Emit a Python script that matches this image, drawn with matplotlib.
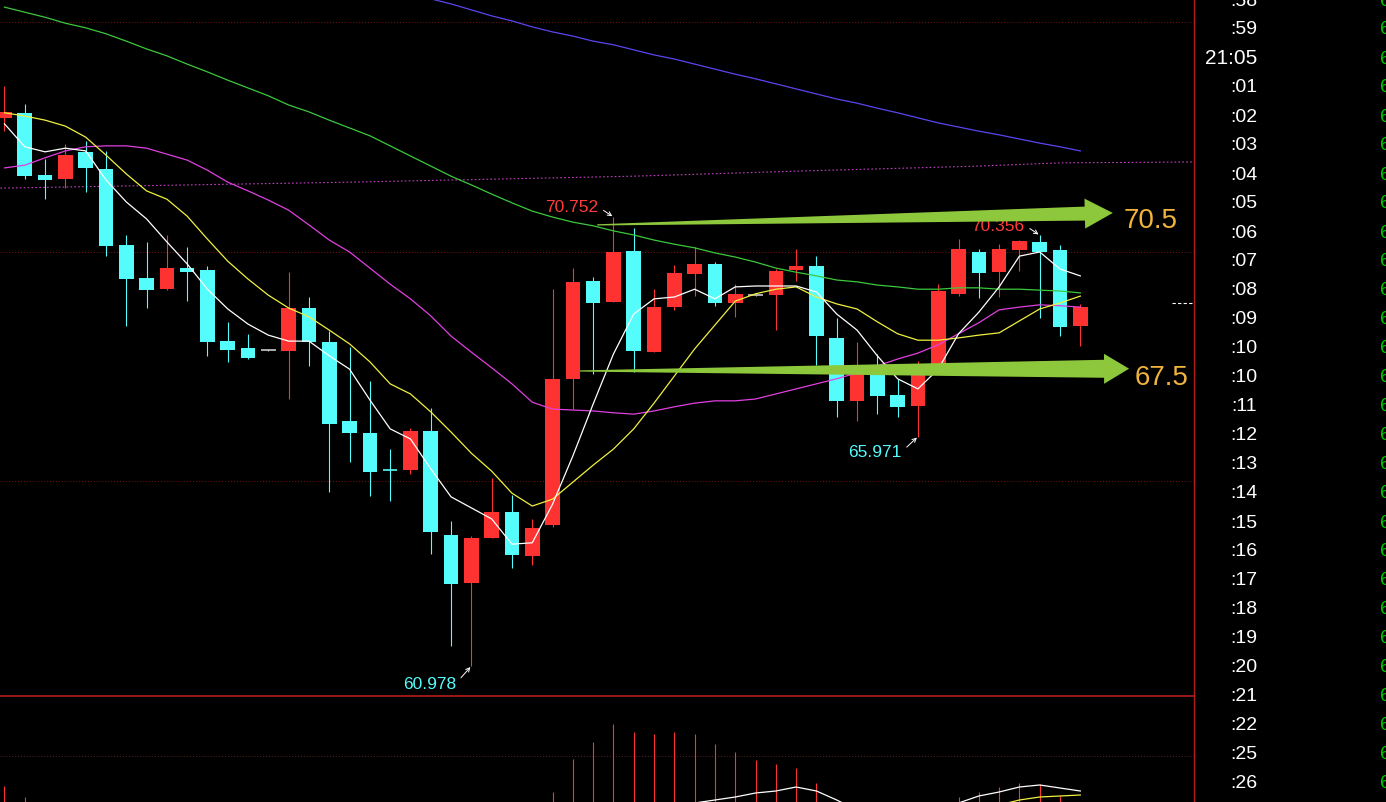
import numpy as np
import matplotlib.pyplot as plt
from matplotlib.patches import Polygon

plt.rcParams['font.family'] = ['Liberation Sans', 'DejaVu Sans']

# ---- candles (one per minute) ----
opens = [72.91, 73.02, 71.67, 71.58, 72.17, 71.80, 70.14, 69.42, 69.18, 69.64,
         69.60, 68.05, 67.90, 67.86, 67.83, 68.77, 68.03, 66.31, 66.05, 65.25,
         65.25, 66.09, 63.83, 62.79, 63.77, 64.33, 63.37, 64.05, 67.22, 69.36,
         68.90, 70.01, 67.81, 68.79, 69.51, 69.73, 68.88, 69.05, 69.05, 69.60,
         69.69, 68.12, 66.75, 67.49, 66.88, 66.64, 67.44, 69.08, 69.99, 69.55,
         70.03, 70.21, 70.03, 68.38]
highs = [73.60, 73.21, 72.01, 72.34, 72.41, 72.19, 70.36, 70.21, 70.36, 70.10,
         69.69, 68.47, 68.20, 67.88, 69.55, 69.01, 68.27, 67.92, 67.18, 65.70,
         66.16, 66.59, 64.13, 63.81, 65.07, 64.70, 64.18, 69.18, 69.64, 69.45,
         70.752, 70.51, 69.18, 69.71, 70.10, 69.77, 69.29, 69.07, 69.62, 70.05,
         69.90, 68.55, 68.03, 67.77, 67.22, 67.62, 69.29, 70.27, 70.05, 70.16,
         70.25, 70.356, 70.14, 68.86]
lows = [72.62, 71.58, 71.14, 71.38, 71.30, 69.90, 68.38, 68.77, 69.16, 68.92,
        67.73, 67.60, 67.66, 67.84, 66.79, 67.51, 64.77, 65.42, 64.68, 64.57,
        65.16, 63.42, 61.41, 60.978, 63.77, 63.11, 63.18, 64.00, 66.57, 67.33,
        68.90, 67.38, 67.81, 68.73, 69.03, 68.81, 68.58, 69.03, 68.29, 69.36,
        67.53, 66.40, 66.31, 66.46, 66.40, 65.971, 67.40, 69.03, 68.99, 69.01,
        69.58, 68.55, 68.16, 67.94]
closes = [73.04, 71.64, 71.56, 72.10, 71.82, 70.12, 69.40, 69.16, 69.64, 69.55,
          68.03, 67.86, 67.68, 67.86, 68.77, 68.03, 66.25, 66.05, 65.20, 65.24,
          66.09, 63.89, 62.76, 63.77, 64.33, 63.39, 63.98, 67.22, 69.34, 68.88,
          69.99, 67.83, 68.79, 69.53, 69.73, 68.88, 69.08, 69.05, 69.58, 69.69,
          68.16, 66.75, 67.36, 66.85, 66.62, 67.31, 69.14, 70.05, 69.53, 70.05,
          70.23, 69.99, 68.36, 68.79]

# ---- moving averages ----
ma5 = [72.78, 72.28, 72.17, 72.25, 72.19, 71.56, 71.08, 70.71, 70.21, 69.73,
       69.18, 68.75, 68.42, 68.18, 68.05, 68.05, 67.73, 67.44, 66.77, 66.14,
       65.92, 65.27, 64.66, 64.42, 64.18, 63.63, 63.66, 64.50, 65.55, 66.68,
       67.77, 68.64, 68.97, 69.01, 69.18, 68.97, 69.23, 69.25, 69.25, 69.25,
       69.12, 68.64, 68.29, 67.73, 67.23, 67.01, 67.44, 68.21, 68.68, 69.23,
       69.90, 69.99, 69.62, 69.47]
ma10 = [73.02, 72.95, 72.86, 72.73, 72.49, 72.10, 71.69, 71.32, 71.14, 70.77,
        70.27, 69.79, 69.40, 69.05, 68.77, 68.58, 68.29, 67.99, 67.60, 67.12,
        66.90, 66.51, 66.07, 65.61, 65.22, 64.74, 64.46, 64.61, 64.98, 65.35,
        65.70, 66.14, 66.70, 67.29, 67.88, 68.40, 68.92, 69.08, 69.18, 69.23,
        69.01, 68.86, 68.75, 68.47, 68.21, 68.07, 68.07, 68.12, 68.18, 68.23,
        68.49, 68.75, 68.88, 69.03]
ma20 = [71.82, 71.88, 72.04, 72.19, 72.28, 72.30, 72.30, 72.25, 72.12, 71.99,
        71.77, 71.51, 71.32, 71.12, 70.90, 70.58, 70.25, 69.99, 69.64, 69.29,
        68.97, 68.60, 68.16, 67.81, 67.47, 67.12, 66.72, 66.57, 66.55, 66.53,
        66.49, 66.46, 66.53, 66.62, 66.70, 66.75, 66.75, 66.79, 66.90, 67.01,
        67.12, 67.23, 67.36, 67.51, 67.66, 67.79, 67.97, 68.21, 68.45, 68.73,
        68.79, 68.84, 68.82, 68.79]
ma60 = [75.32, 75.21, 75.10, 74.97, 74.87, 74.74, 74.58, 74.41, 74.26, 74.08,
        73.91, 73.73, 73.56, 73.39, 73.19, 73.04, 72.86, 72.69, 72.52, 72.30,
        72.08, 71.86, 71.64, 71.45, 71.25, 71.06, 70.88, 70.75, 70.64, 70.56,
        70.45, 70.36, 70.25, 70.16, 70.08, 69.97, 69.88, 69.77, 69.64, 69.55,
        69.47, 69.38, 69.34, 69.27, 69.23, 69.18, 69.18, 69.21, 69.21, 69.18,
        69.18, 69.16, 69.14, 69.10]
ma120_start = 20
ma120 = [75.63, 75.50, 75.39, 75.26, 75.13, 75.02, 74.89, 74.78, 74.69, 74.58,
         74.50, 74.39, 74.28, 74.19, 74.08, 73.97, 73.86, 73.76, 73.65, 73.54,
         73.43, 73.32, 73.23, 73.12, 73.02, 72.91, 72.80, 72.71, 72.62, 72.54,
         72.45, 72.36, 72.28, 72.19]

# average-price dotted line
avg_idx = [-0.2, 17, 31, 39, 48, 52, 58.6]
avg_val = [71.38, 71.51, 71.64, 71.75, 71.86, 71.93, 71.95]

grid_levels = [75, 70, 65]
last_marker = 68.88

# ---- lower panel (MACD) ----
macd_hist = [0.16, 0.05, 0, 0, 0, 0, 0, 0, 0, 0,
             0, 0, 0, 0, 0, 0, 0, 0, 0, 0,
             0, 0, 0, 0, 0, 0, 0, 0.10, 0.43, 0.60,
             0.78, 0.70, 0.68, 0.70, 0.68, 0.58, 0.50, 0.42, 0.38, 0.34,
             0.19, 0, 0, 0, 0, 0, 0, 0.05, 0.10, 0.15,
             0.19, 0.18, 0.06, 0]
dif_a_idx = [34, 35, 36, 37, 38, 39, 40, 41, 42]
dif_a = [-0.01, 0.02, 0.05, 0.09, 0.11, 0.15, 0.11, 0.02, -0.08]
dif_b_idx = [46, 47, 48, 49, 50, 51, 52, 53]
dif_b = [-0.10, -0.01, 0.06, 0.10, 0.15, 0.17, 0.14, 0.11]
dea_idx = [49, 50, 51, 52, 53]
dea = [-0.03, 0.02, 0.05, 0.06, 0.07]

# ---- annotations ----
marks = [("70.752", 30, 70.752, -15, 10, '#ff3c3c'),
         ("60.978", 23, 60.978, -15, -17, '#54fcfc'),
         ("65.971", 45, 65.971, -16, -15, '#54fcfc'),
         ("70.356", 51, 70.356, -15, 10, '#ff3c3c')]
arrow_hi = [(29.2, 70.58), (54.6, 70.84), "70.5"]
arrow_lo = [(28.35, 67.40), (55.4, 67.45), "67.5"]

time_labels = [":58", ":59", "21:05", ":01", ":02", ":03", ":04", ":05", ":06",
               ":07", ":08", ":09", ":10", ":10", ":11", ":12", ":13", ":14",
               ":15", ":16", ":17", ":18", ":19", ":20", ":21", ":22", ":25", ":26"]

RED = '#ff3232'
CYAN = '#54fcfc'
FRAME = '#b41c1c'
W, H = 1386, 803

fig = plt.figure(figsize=(W / 100, H / 100), dpi=100, facecolor='black')
ax = fig.add_axes([0, 106 / H, 1194 / W, 697 / H], facecolor='black')
ax2 = fig.add_axes([0, 0, 1194 / W, 106 / H], facecolor='none')

ax.set_xlim(-0.22, 58.6)
ax.set_ylim(60.325, 75.497)
ax2.set_xlim(-0.22, 58.6)
ax2.set_ylim(0, 1.06)

for a in (ax, ax2):
    a.set_xticks([])
    a.set_yticks([])
    for s in a.spines.values():
        s.set_visible(False)
    a.spines['right'].set_visible(True)
    a.spines['right'].set_color(FRAME)
    a.spines['right'].set_linewidth(1.0)
ax.spines['bottom'].set_visible(True)
ax.spines['bottom'].set_color(FRAME)
ax.spines['bottom'].set_linewidth(1.2)
ax.spines['bottom'].set_zorder(10)

for g in grid_levels:
    ax.axhline(g, color='#7a1414', ls=(0, (1, 2)), lw=0.7, zorder=0)
ax2.axhline(0.46, color='#5a2020', ls=(0, (1, 2)), lw=0.7, zorder=0)

# candles
idx = np.arange(len(opens))
o = np.array(opens)
c = np.array(closes)
colors = []
for oo, cc in zip(o, c):
    if cc > oo:
        colors.append(RED)
    elif cc < oo:
        colors.append(CYAN)
    else:
        colors.append('#c8c8c8')

ax.vlines(idx, lows, highs, colors=colors, lw=0.8, zorder=2)
big = np.abs(c - o) >= 0.05
ax.bar(idx[big], (c - o)[big], bottom=o[big], width=0.72,
       color=[colors[i] for i in idx[big]], lw=0, zorder=3)
for i in idx[~big]:
    ax.hlines(c[i], i - 0.36, i + 0.36, colors=colors[i], lw=1.2, zorder=3)

# moving averages
ax.plot(idx, ma60, color='#3cc83c', lw=0.9, zorder=4)
ax.plot(idx[ma120_start:], ma120, color='#5a46f0', lw=0.9, zorder=4)
ax.plot(idx, ma20, color='#e040e0', lw=0.9, zorder=4)
ax.plot(idx, ma10, color='#f0f040', lw=0.9, zorder=4)
ax.plot(idx, ma5, color='white', lw=0.9, zorder=4)
ax.plot(avg_idx, avg_val, color='#c040c0', ls=(0, (1.5, 2)), lw=0.8, zorder=1)
ax.plot([57.5, 58.5], [last_marker, last_marker], color='white',
        ls=(0, (3, 2)), lw=0.8)

# high / low labels
for txt, xi, yv, dx, dy, col in marks:
    ax.annotate(txt, xy=(xi, yv), xytext=(dx, dy), textcoords='offset pixels',
                ha='right', va='center', color=col, fontsize=12.5, zorder=5,
                arrowprops=dict(arrowstyle='->', color='white', lw=0.7,
                                shrinkA=2, shrinkB=1, mutation_scale=7,
                                relpos=(1.0, 0.5)))


def tapered_arrow(start, tip, head_len, head_half, base_half, color):
    to_px = ax.transData.transform
    to_data = ax.transData.inverted().transform
    (x0, y0), (x1, y1) = to_px([start, tip])
    L = np.hypot(x1 - x0, y1 - y0)
    ux, uy = (x1 - x0) / L, (y1 - y0) / L
    nx, ny = -uy, ux
    bx, by = x1 - ux * head_len, y1 - uy * head_len
    pts = [(x0 + nx * 0.6, y0 + ny * 0.6),
           (bx + nx * base_half, by + ny * base_half),
           (bx + nx * head_half, by + ny * head_half),
           (x1, y1),
           (bx - nx * head_half, by - ny * head_half),
           (bx - nx * base_half, by - ny * base_half),
           (x0 - nx * 0.6, y0 - ny * 0.6)]
    ax.add_patch(Polygon(to_data(pts), closed=True, facecolor=color,
                         edgecolor='none', zorder=6))


GREEN_ARROW = '#8dc83c'
tapered_arrow(arrow_hi[0], arrow_hi[1], 28, 15, 7, GREEN_ARROW)
tapered_arrow(arrow_lo[0], arrow_lo[1], 25, 15, 9, GREEN_ARROW)
ax.annotate(arrow_hi[2], xy=arrow_hi[1], xytext=(11, -7), textcoords='offset pixels',
            ha='left', va='center', color='#f0b43c', fontsize=20, zorder=7)
ax.annotate(arrow_lo[2], xy=arrow_lo[1], xytext=(6, -8), textcoords='offset pixels',
            ha='left', va='center', color='#f0b43c', fontsize=20, zorder=7)

# lower panel
for i, h in enumerate(macd_hist):
    if h > 0:
        ax2.vlines(i, -1, h, colors=RED, lw=0.8)
ax2.plot(dif_a_idx, dif_a, color='white', lw=0.9)
ax2.plot(dif_b_idx, dif_b, color='white', lw=0.9)
ax2.plot(dea_idx, dea, color='#f0f040', lw=0.9)

# right-hand time column
for k, lab in enumerate(time_labels):
    ypx = 1 + 29 * k
    fs = 15 if lab == "21:05" else 14
    fig.text(1257 / W, 1 - ypx / H, lab, ha='right', va='center',
             color='white', fontsize=fs)
    fig.text(1380 / W, 1 - ypx / H, "6", ha='left', va='center',
             color='#00c800', fontsize=14)

fig.savefig('out.png', dpi=100, facecolor='black')
